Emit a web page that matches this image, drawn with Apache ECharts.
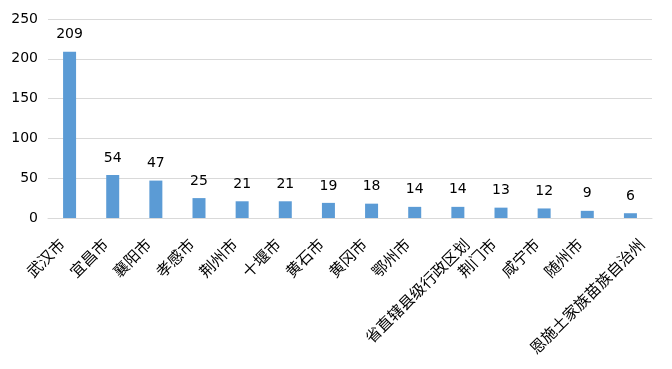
<!DOCTYPE html>
<html><head><meta charset="utf-8">
<script src="https://cdn.jsdelivr.net/npm/echarts@6/dist/echarts.min.js"></script>
<style>html,body{margin:0;padding:0;background:#fff}#c{width:672px;height:369px}</style>
</head><body><div id="c"></div>
<script>
const categories = ['武汉市','宜昌市','襄阳市','孝感市','荆州市','十堰市','黄石市','黄冈市','鄂州市','省直辖县级行政区划','荆门市','咸宁市','随州市','恩施土家族苗族自治州'];
const values = [209,54,47,25,21,21,19,18,14,14,13,12,9,6];
const yTicks = {min:0, max:250, interval:50};

// Excel-like placement of 45° labels: long labels sit further right/down
const FS = 15.5;
function labelShift(n){
  const L = n*FS;
  const off = -2 + 2.7*(n-3);
  const k = 0.707*(L + FS)/2;
  const down = (off + 18)/1.414;          // along the label's normal
  const back = (18 + 2*k - off)/1.414 - L/2; // along the label, towards its start
  return {down: Math.max(0, down), back: Math.max(0, back)};
}
const rich = {};
const xData = categories.map((c, i) => {
  const s = labelShift(c.length);
  rich['g' + i] = {fontSize: 1, lineHeight: 2*s.down};
  return {value: c, textStyle: {padding: [0, s.back, 0, 0]}};
});

const chart = echarts.init(document.getElementById('c'), null, {renderer:'canvas'});
chart.setOption({
  animation:false,
  backgroundColor:'#fff',
  grid:{left:48, right:20, top:19, bottom:151, containLabel:false, outerBoundsMode:'none'},
  xAxis:{
    type:'category', data:xData,
    axisLine:{show:true, lineStyle:{color:'#d9d9d9', width:1}},
    axisTick:{show:false},
    axisLabel:{interval:0, rotate:45, margin:0,
      color:'#000', fontSize:FS, fontFamily:'Noto Sans CJK SC', lineHeight:FS,
      rich: rich,
      formatter: (value, index) => '{g' + index + '| }\n' + value}
  },
  yAxis:{
    type:'value', min:yTicks.min, max:yTicks.max, interval:yTicks.interval,
    axisLine:{show:false}, axisTick:{show:false},
    splitLine:{lineStyle:{color:'#d9d9d9', width:1}},
    axisLabel:{color:'#000', fontSize:14, margin:10, fontFamily:'DejaVu Sans'}
  },
  series:[{
    type:'bar', data:values, barWidth:13,
    itemStyle:{color:'#5B9BD5'},
    label:{show:true, position:'top', distance:10, color:'#000', fontSize:14, fontFamily:'DejaVu Sans'}
  }]
});
</script></body></html>
